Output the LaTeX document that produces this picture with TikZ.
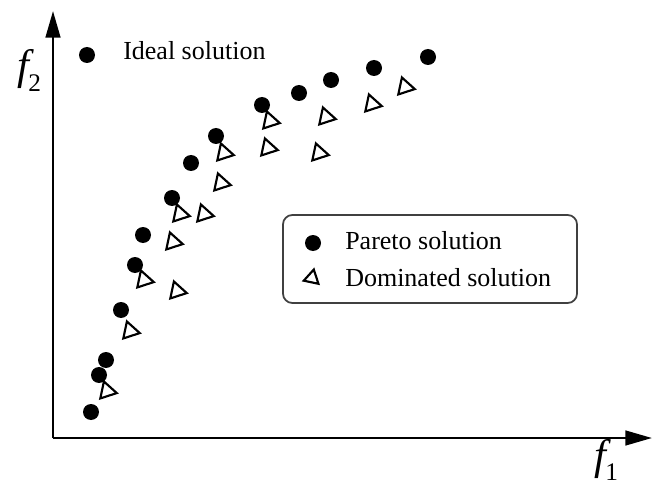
\documentclass[tikz,border=0pt]{standalone}
\usepackage{fontspec}
\setmainfont{Liberation Serif}
\usetikzlibrary{shapes.geometric,arrows.meta}
\begin{document}
\begin{tikzpicture}[x=0.75pt,y=-0.75pt,
  pareto/.style={circle,fill=black,inner sep=0pt,minimum size=12pt},
  dominated/.style={regular polygon,regular polygon sides=3,draw=black,
    line width=1.6pt,inner sep=0pt,minimum size=15pt,shape border rotate=18},
  axis/.style={line width=1.9pt,-{Triangle[length=20pt,width=11pt]}},
  lbl/.style={font=\fontsize{19.5}{22}\selectfont,inner sep=0pt,anchor=base west},
  axlbl/.style={font=\fontsize{32}{34}\selectfont\itshape,inner sep=0pt}]
\useasboundingbox (0,0) rectangle (654,485);

% axes
\coordinate (origin) at (53,438);
\coordinate (ytip) at (53,11);
\coordinate (xtip) at (652,438);
\draw[axis] (origin) -- (ytip);
\draw[axis] (origin) -- (xtip);
\node[axlbl] (f2) at (29,70) {f\kern-0.5pt\raisebox{-9pt}{\fontsize{19}{19}\selectfont\upshape 2}};
\node[axlbl] (f1) at (606,460) {f\kern-0.5pt\raisebox{-8pt}{\fontsize{19}{19}\selectfont\upshape 1}};

% ideal point
\node[pareto] (ideal) at (87,55) {};
\node[lbl] (idealtxt) at (123,60) {Ideal solution};

% Pareto front
\foreach \x/\y [count=\i] in {428/57, 374/68, 331/80, 299/93, 262/105, 216/136,
    191/163, 172/198, 143/235, 135/265, 121/310, 106/360, 99/375, 91/412}
  \node[pareto] (p\i) at (\x,\y) {};

% dominated solutions
\foreach \x/\y [count=\i] in {405/87, 372/104, 326/117, 270/121, 319/153, 268/148,
    224/153, 221/183, 180/214, 204/214, 173/242, 144/280, 177/291, 130/331, 107/391}
  \node[dominated] (d\i) at (\x,\y) {};

% legend
\node[draw=black!75,line width=1.3pt,rounded corners=7pt,minimum width=220.5pt,
  minimum height=66pt,inner sep=0pt] (legend) at (430,259) {};
\node[pareto] (legdot) at (313,243) {};
\node[lbl] (legp) at (345,249) {Pareto solution};
\node[dominated,shape border rotate=108,minimum size=13pt] (legtri) at (312,278) {};
\node[lbl] (legd) at (345,286) {Dominated solution};
\end{tikzpicture}
\end{document}
